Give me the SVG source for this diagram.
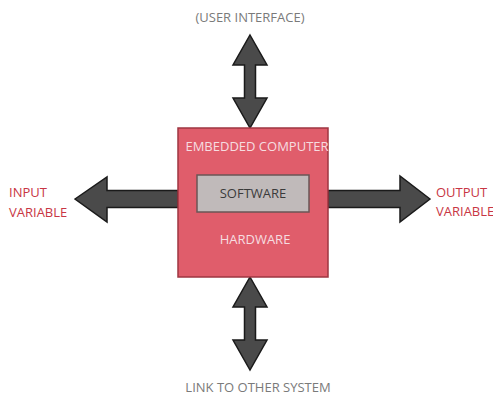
<svg xmlns="http://www.w3.org/2000/svg" width="493" height="396" viewBox="0 0 493 396">
<style>
.arrow{fill:#4a4a4a;stroke:#1a1a1a;stroke-width:1.5;stroke-linejoin:miter}
.lbl{font-family:"Open Sans","Noto Sans",sans-serif;font-size:13px}
.gray{fill:#7a7a7a}
.red{fill:#c83644}
.light{fill:#f6dde0}
</style>
<rect width="493" height="396" fill="#ffffff"/>
<g id="connectors">
<polygon class="arrow" points="250,35 267,65 255.5,65 255.5,98 267,98 250,128 233,98 244.5,98 244.5,65 233,65"/>
<polygon class="arrow" points="250,277 267,307 255.5,307 255.5,340 267,340 250,370 233,340 244.5,340 244.5,307 233,307"/>
<polygon class="arrow" points="75,199 107,177 107,190.5 178,190.5 178,207.5 107,207.5 107,222"/>
<polygon class="arrow" points="430,199 400,176 400,190.5 328,190.5 328,207.5 400,207.5 400,222"/>
</g>
<g id="computer">
<rect x="178" y="128" width="150" height="149" fill="#e05d6b" stroke="#9e3641" stroke-width="1.5"/>
<text class="lbl light" x="257" y="151" text-anchor="middle">EMBEDDED COMPUTER</text>
<text class="lbl light" x="255" y="244" text-anchor="middle">HARDWARE</text>
</g>
<g id="software">
<rect x="197" y="175" width="112" height="37" fill="#c0baba" stroke="#6a5656" stroke-width="1.5"/>
<text class="lbl" fill="#3a3a3a" x="253" y="198" text-anchor="middle">SOFTWARE</text>
</g>
<g id="user-interface">
<text class="lbl gray" x="250" y="22" text-anchor="middle" font-size="14">(USER INTERFACE)</text>
</g>
<g id="link">
<text class="lbl gray" x="258" y="392" text-anchor="middle">LINK TO OTHER SYSTEM</text>
</g>
<g id="input">
<text class="lbl red" x="9" y="197">INPUT</text>
<text class="lbl red" x="9" y="217">VARIABLE</text>
</g>
<g id="output">
<text class="lbl red" x="436" y="197" font-size="12">OUTPUT</text>
<text class="lbl red" x="436" y="216" font-size="12">VARIABLE</text>
</g>
</svg>
